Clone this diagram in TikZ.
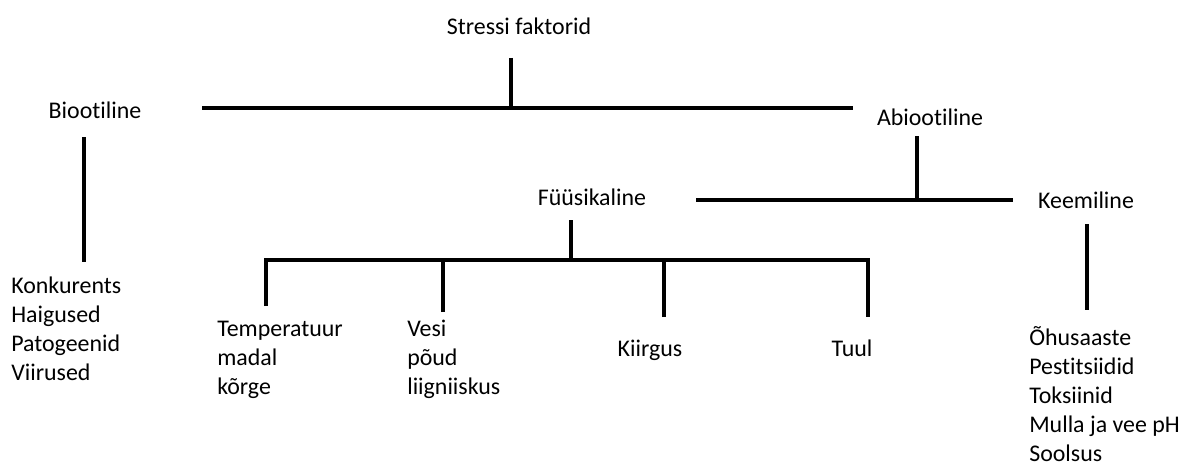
\documentclass[tikz,border=0pt]{standalone}
\usepackage{fontspec}
\setmainfont{Carlito}[Ligatures={NoCommon}]

\begin{document}
\begin{tikzpicture}[x=0.025cm,y=-0.025cm]
\tikzstyle{every node}=[font=\fontsize{17pt}{20.6pt}\selectfont,inner sep=0pt]
\tikzstyle{bar}=[line width=2.8pt]
\tikzstyle{list}=[align=left,anchor=base west]
\useasboundingbox (0,0) rectangle (1182,466);

% headings
\node at (519,35) [anchor=base] (stress) {Stressi faktorid};
\node at (95,118) [anchor=base] (bio) {Biootiline};
\node at (930,125) [anchor=base] (abio) {Abiootiline};
\node at (592,205) [anchor=base] (fyys) {Füüsikaline};
\node at (1086,208) [anchor=base] (keem) {Keemiline};

% lists (base = last line)
\node at (11,380) [list] (biolist) {Konkurents\\Haigused\\Patogeenid\\Viirused};
\node at (217,394) [list] (temp) {Temperatuur\\madal\\kõrge};
\node at (407,394) [list] (vesi) {Vesi\\põud\\liigniiskus};
\node at (650,356) [anchor=base] (kiir) {Kiirgus};
\node at (852,356) [anchor=base] (tuul) {Tuul};
\node at (1029,461) [list] (keemlist) {Õhusaaste\\Pestitsiidid\\Toksiinid\\Mulla ja vee pH\\Soolsus};

% bar ends
\coordinate (s0) at (511,58);
\coordinate (s1) at (511,108);
\coordinate (sl) at (202,108);
\coordinate (sr) at (853,108);
\coordinate (b0) at (84,137);
\coordinate (b1) at (84,262);
\coordinate (a0) at (917,136);
\coordinate (a1) at (917,200);
\coordinate (al) at (696,200);
\coordinate (ar) at (1013,200);
\coordinate (k0) at (1087,224);
\coordinate (k1) at (1087,310);
\coordinate (f0) at (571,220);
\coordinate (f1) at (571,260);
\coordinate (t0) at (266,306);
\coordinate (t1) at (266,260);
\coordinate (v0) at (443,312);
\coordinate (v1) at (443,260);
\coordinate (r0) at (664,317);
\coordinate (r1) at (664,260);
\coordinate (u0) at (868,317);
\coordinate (u1) at (868,260);

\path [draw,bar] (s0) -- (s1);
\path [draw,bar] (sl) -- (sr);
\path [draw,bar] (b0) -- (b1);
\path [draw,bar] (a0) -- (a1);
\path [draw,bar] (al) -- (ar);
\path [draw,bar] (k0) -- (k1);
\path [draw,bar] (f0) -- (f1);
\path [draw,bar] (t0) -- (t1) -- (u1) -- (u0);
\path [draw,bar] (v0) -- (v1);
\path [draw,bar] (r0) -- (r1);

\end{tikzpicture}
\end{document}
